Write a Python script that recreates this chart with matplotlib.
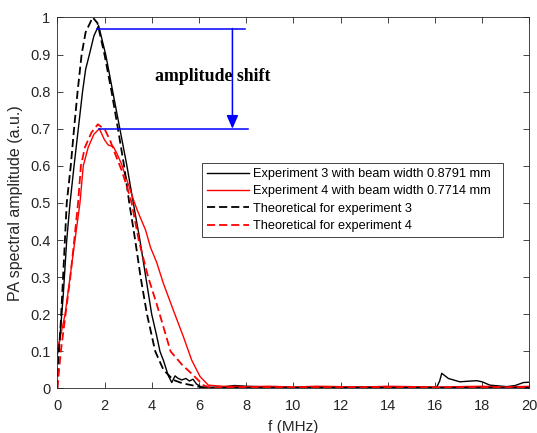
import matplotlib
matplotlib.use("Agg")
import matplotlib.pyplot as plt

# experiment 3 (black solid)
f_exp3 = [0, 0.1, 0.25, 0.4, 0.54, 0.71, 0.89, 1.07, 1.2, 1.36, 1.55, 1.75,
          2.05, 2.35, 2.65, 2.95, 3.22, 3.5, 3.75, 4.0, 4.2, 4.35, 4.5, 4.7,
          4.85, 4.99, 5.1, 5.27, 5.45, 5.6, 5.75, 5.9, 6.1, 6.5, 7.0, 7.5, 8.0,
          9.0, 10.0, 11.0, 12.0, 13.0, 14.0, 15.0, 16.07, 16.2, 16.29, 16.57,
          17.06, 17.5, 17.77, 18.0, 18.33, 19.04, 19.4, 19.75, 20.0]
a_exp3 = [0.09, 0.13, 0.25, 0.40, 0.50, 0.60, 0.70, 0.80, 0.86, 0.90, 0.95, 0.978,
          0.90, 0.80, 0.70, 0.60, 0.50, 0.40, 0.30, 0.20, 0.145, 0.10, 0.075, 0.035,
          0.016, 0.034, 0.028, 0.023, 0.027, 0.02, 0.025, 0.012, 0.004, 0.003, 0.004, 0.008, 0.006,
          0.004, 0.003, 0.004, 0.003, 0.004, 0.003, 0.004, 0.003, 0.02, 0.041, 0.027,
          0.018, 0.02, 0.021, 0.018, 0.009, 0.005, 0.008, 0.016, 0.017]

# experiment 4 (red solid)
f_exp4 = [0, 0.33, 0.54, 0.75, 0.96, 1.1, 1.31, 1.55, 1.78, 2.0, 2.16, 2.37,
          2.52, 2.72, 3.01, 3.22, 3.39, 3.74, 3.95, 4.21, 4.49, 4.91, 5.34, 5.69,
          6.05, 6.4, 7.0, 8.0, 9.0, 10.0, 11.0, 12.0, 13.0, 14.0, 15.0, 16.0,
          17.0, 18.0, 19.0, 20.0]
a_exp4 = [0.10, 0.20, 0.30, 0.40, 0.50, 0.60, 0.65, 0.685, 0.70, 0.67, 0.656, 0.652,
          0.634, 0.605, 0.55, 0.51, 0.48, 0.427, 0.38, 0.34, 0.284, 0.212, 0.14, 0.077,
          0.032, 0.009, 0.006, 0.005, 0.006, 0.004, 0.006, 0.005, 0.004, 0.006, 0.005, 0.004,
          0.005, 0.006, 0.004, 0.006]

# theoretical for experiment 3 (black dashed)
f_th3 = [0, 0.05, 0.15, 0.3, 0.4, 0.57, 0.71, 0.86, 1.03, 1.2, 1.5, 1.7, 2.0,
         2.3, 2.57, 2.83, 3.05, 3.3, 3.53, 3.8, 4.15, 4.5, 4.92, 5.3,
         5.76, 6.2, 20.0]
a_th3 = [0, 0.08, 0.18, 0.37, 0.50, 0.60, 0.70, 0.80, 0.90, 0.96, 1.0, 0.985, 0.90,
         0.80, 0.70, 0.60, 0.50, 0.40, 0.30, 0.20, 0.10, 0.05, 0.023, 0.014,
         0.008, 0.002, 0.002]

# theoretical for experiment 4 (red dashed)
f_th4 = [0, 0.15, 0.35, 0.55, 0.72, 0.88, 1.0, 1.17, 1.45, 1.72, 2.02, 2.23,
         2.44, 2.72, 2.95, 3.15, 3.45, 3.85, 4.2, 4.45, 4.8, 5.3, 5.76, 6.18,
         6.5, 20.0]
a_th4 = [0, 0.10, 0.20, 0.30, 0.40, 0.50, 0.60, 0.65, 0.69, 0.712, 0.697, 0.67,
         0.634, 0.589, 0.544, 0.50, 0.40, 0.30, 0.23, 0.176, 0.10, 0.063, 0.036, 0.009,
         0.002, 0.002]

labels = ["Experiment 3 with beam width 0.8791 mm",
          "Experiment 4 with beam width 0.7714 mm",
          "Theoretical for experiment 3",
          "Theoretical for experiment 4"]

# amplitude shift marker levels
peak_hi = 0.97
peak_lo = 0.70

plt.rcParams["font.family"] = ["Liberation Sans", "DejaVu Sans"]
axis_col = "#262626"
red = "#ff0000"
blue = "#0000ff"

fig = plt.figure(figsize=(5.37, 4.33), dpi=100)
ax = fig.add_axes([0.1067, 0.1028, 0.879, 0.857])

ax.plot(f_exp3, a_exp3, color="black", lw=1.0, label=labels[0])
ax.plot(f_exp4, a_exp4, color=red, lw=1.0, label=labels[1])
ax.plot(f_th3, a_th3, color="black", lw=1.3, dashes=(4.5, 2.2), label=labels[2])
ax.plot(f_th4, a_th4, color=red, lw=1.3, dashes=(4.5, 2.2), label=labels[3])

# blue markers for amplitude shift
ax.plot([1.67, 7.95], [peak_hi, peak_hi], color=blue, lw=1.1)
ax.plot([1.78, 8.07], [peak_lo, peak_lo], color=blue, lw=1.1)
ax.annotate("", xy=(7.42, peak_lo), xytext=(7.42, peak_hi),
            arrowprops=dict(arrowstyle="-|>,head_length=0.8,head_width=0.35",
                            color=blue, lw=1.1, shrinkA=0, shrinkB=0))
ax.text(6.58, 0.842, "amplitude shift", family="Liberation Serif",
        fontweight="bold", fontsize=12.8, ha="center", va="center")

ax.set_xlim(0, 20)
ax.set_ylim(0, 1)
ax.set_xticks(range(0, 21, 2))
ax.set_yticks([i / 10 for i in range(11)])
ax.set_yticklabels(["0", "0.1", "0.2", "0.3", "0.4", "0.5", "0.6", "0.7", "0.8", "0.9", "1"])
ax.tick_params(direction="in", top=True, right=True, length=4, width=0.6,
               labelsize=10.5, colors=axis_col)
ax.tick_params(axis="x", pad=7.5)
ax.tick_params(axis="y", pad=5)
for s in ax.spines.values():
    s.set_color(axis_col)
    s.set_linewidth(0.6)

ax.set_xlabel("f (MHz)", fontsize=11, color=axis_col, labelpad=5)
ax.set_ylabel("PA spectral amplitude (a.u.)", fontsize=11.5, color=axis_col, labelpad=5)

leg = ax.legend([l + "  " for l in labels], loc="upper left",
                bbox_to_anchor=(0.307, 0.608), borderaxespad=0,
                fontsize=9.2, handlelength=3.3, handletextpad=0.25, labelspacing=0.42,
                borderpad=0.4, fancybox=False, framealpha=1, edgecolor=axis_col)
leg.get_frame().set_linewidth(0.6)

fig.savefig("out.png", dpi=100)
